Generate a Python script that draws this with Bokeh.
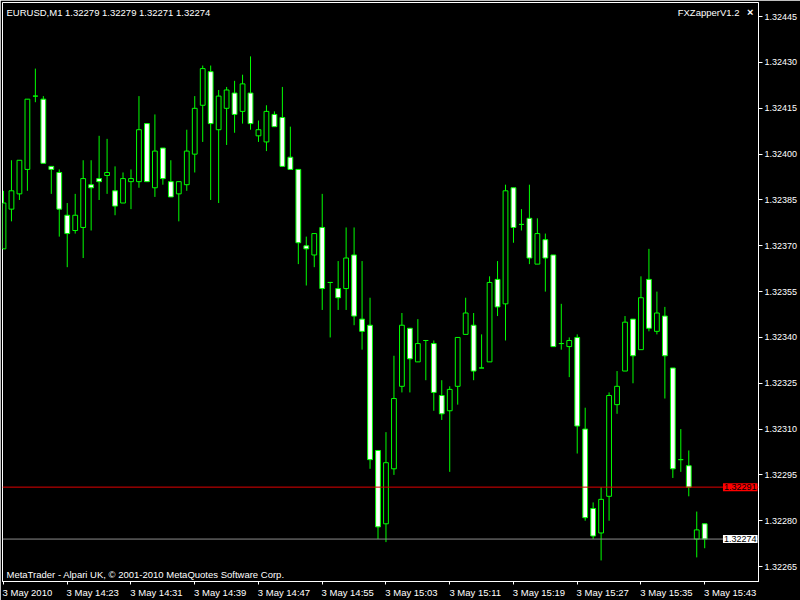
from bokeh.plotting import figure
from bokeh.models import (ColumnDataSource, FixedTicker, Label, Span, Range1d,
                          PrintfTickFormatter)
from bokeh.embed import file_html
from bokeh.resources import INLINE

# EURUSD M1, 3 May 2010, 14:15 .. 15:43 (one bar per minute)
bar_open = [1.32369, 1.32382, 1.32387, 1.32395, 1.32419, 1.32418, 1.32396, 1.32394, 1.32380, 1.32375,
            1.32376, 1.32390, 1.32392, 1.32393, 1.32388, 1.32384, 1.32391, 1.32391, 1.32410, 1.32389,
            1.32402, 1.32391, 1.32387, 1.32390, 1.32400, 1.32416, 1.32427, 1.32408, 1.32415, 1.32420,
            1.32414, 1.32420, 1.32406, 1.32404, 1.32413, 1.32412, 1.32399, 1.32395, 1.32370, 1.32367,
            1.32376, 1.32358, 1.32356, 1.32356, 1.32367, 1.32346, 1.32344, 1.32303, 1.32279, 1.32297,
            1.32324, 1.32343, 1.32332, 1.32339, 1.32338, 1.32321, 1.32316, 1.32324, 1.32341, 1.32344,
            1.32330, 1.32332, 1.32359, 1.32351, 1.32389, 1.32377, 1.32379, 1.32364, 1.32372, 1.32367,
            1.32338, 1.32337, 1.32340, 1.32310, 1.32284, 1.32276, 1.32288, 1.32318, 1.32329, 1.32346,
            1.32336, 1.32359, 1.32342, 1.32347, 1.32330, 1.32300, 1.32298, 1.32274, 1.32279]
bar_high = [1.32388, 1.32398, 1.32398, 1.32418, 1.32428, 1.32419, 1.32396, 1.32395, 1.32384, 1.32387,
            1.32398, 1.32398, 1.32406, 1.32405, 1.32396, 1.32394, 1.32395, 1.32419, 1.32410, 1.32413,
            1.32402, 1.32398, 1.32391, 1.32408, 1.32419, 1.32429, 1.32429, 1.32421, 1.32422, 1.32424,
            1.32426, 1.32432, 1.32411, 1.32416, 1.32414, 1.32422, 1.32409, 1.32395, 1.32373, 1.32374,
            1.32387, 1.32358, 1.32365, 1.32376, 1.32376, 1.32365, 1.32353, 1.32303, 1.32309, 1.32334,
            1.32348, 1.32343, 1.32346, 1.32339, 1.32339, 1.32326, 1.32324, 1.32340, 1.32353, 1.32348,
            1.32341, 1.32360, 1.32365, 1.32390, 1.32389, 1.32382, 1.32390, 1.32379, 1.32374, 1.32367,
            1.32351, 1.32340, 1.32341, 1.32317, 1.32286, 1.32291, 1.32322, 1.32329, 1.32347, 1.32346,
            1.32360, 1.32369, 1.32355, 1.32350, 1.32330, 1.32310, 1.32303, 1.32283, 1.32279]
bar_low = [1.32369, 1.32378, 1.32385, 1.32388, 1.32417, 1.32397, 1.32387, 1.32373, 1.32363, 1.32374,
           1.32366, 1.32375, 1.32385, 1.32387, 1.32380, 1.32384, 1.32382, 1.32389, 1.32391, 1.32386,
           1.32390, 1.32386, 1.32378, 1.32388, 1.32394, 1.32404, 1.32385, 1.32384, 1.32403, 1.32407,
           1.32410, 1.32408, 1.32404, 1.32401, 1.32409, 1.32396, 1.32395, 1.32364, 1.32357, 1.32363,
           1.32349, 1.32340, 1.32349, 1.32349, 1.32344, 1.32336, 1.32297, 1.32274, 1.32273, 1.32295,
           1.32322, 1.32322, 1.32332, 1.32326, 1.32316, 1.32313, 1.32296, 1.32318, 1.32341, 1.32326,
           1.32330, 1.32332, 1.32347, 1.32339, 1.32371, 1.32375, 1.32364, 1.32364, 1.32355, 1.32337,
           1.32336, 1.32327, 1.32302, 1.32280, 1.32274, 1.32267, 1.32280, 1.32315, 1.32329, 1.32325,
           1.32336, 1.32342, 1.32341, 1.32320, 1.32294, 1.32296, 1.32288, 1.32268, 1.32271]
bar_close = [1.32384, 1.32388, 1.32398, 1.32418, 1.32419, 1.32397, 1.32395, 1.32382, 1.32374, 1.32380,
             1.32392, 1.32389, 1.32391, 1.32394, 1.32383, 1.32392, 1.32392, 1.32408, 1.32391, 1.32401,
             1.32392, 1.32386, 1.32391, 1.32401, 1.32415, 1.32428, 1.32410, 1.32419, 1.32421, 1.32413,
             1.32423, 1.32410, 1.32408, 1.32414, 1.32409, 1.32396, 1.32395, 1.32371, 1.32369, 1.32374,
             1.32356, 1.32358, 1.32353, 1.32366, 1.32347, 1.32342, 1.32300, 1.32278, 1.32299, 1.32320,
             1.32344, 1.32333, 1.32338, 1.32339, 1.32322, 1.32315, 1.32323, 1.32340, 1.32348, 1.32329,
             1.32330, 1.32358, 1.32350, 1.32388, 1.32376, 1.32377, 1.32366, 1.32374, 1.32366, 1.32337,
             1.32338, 1.32339, 1.32311, 1.32281, 1.32275, 1.32287, 1.32321, 1.32324, 1.32345, 1.32334,
             1.32353, 1.32343, 1.32348, 1.32334, 1.32297, 1.32300, 1.32291, 1.32277, 1.32274]

time_tick_bars = [0, 8, 16, 24, 32, 40, 48, 56, 64, 72, 80, 88]
time_tick_labels = ["3 May 2010", "3 May 14:23", "3 May 14:31", "3 May 14:39", "3 May 14:47",
                    "3 May 14:55", "3 May 15:03", "3 May 15:11", "3 May 15:19", "3 May 15:27",
                    "3 May 15:35", "3 May 15:43"]
price_ticks = [1.32265, 1.32280, 1.32295, 1.32310, 1.32325, 1.32340, 1.32355, 1.32370,
               1.32385, 1.32400, 1.32415, 1.32430, 1.32445]
level_line = 1.32291
bid_price = 1.32274
header_text = "EURUSD,M1  1.32279 1.32279 1.32271 1.32274"
footer_text = "MetaTrader - Alpari UK, \u00a9 2001-2010 MetaQuotes Software Corp."
indicator_text = "FXZapperV1.2"

FONT = "Liberation Sans"
FS = "9.5px"
AXFS = "9px"
GREEN = "#00ff00"

n = len(bar_open)
idx = list(range(n))
top = [max(o, c) for o, c in zip(bar_open, bar_close)]
bot = [min(o, c) for o, c in zip(bar_open, bar_close)]
fill = ["black" if c > o else "white" for o, c in zip(bar_open, bar_close)]
src = ColumnDataSource(dict(x=idx, high=bar_high, low=bar_low, top=top, bottom=bot, fill=fill))

x0, x1 = -0.125, 94.75
y0, y1 = 1.3226011, 1.3244964

p = figure(width=800, height=600, output_backend="svg", toolbar_location=None,
           x_range=Range1d(x0, x1), y_range=Range1d(y0, y1),
           y_axis_location="right",
           background_fill_color="black", border_fill_color="black",
           min_border_left=2, min_border_top=2, min_border_right=0, min_border_bottom=0)
p.outline_line_color = "white"
p.outline_line_width = 1
p.grid.visible = False

# horizontal lines
p.add_layout(Span(location=level_line, dimension="width", line_color="#e00000", line_width=1))
p.add_layout(Span(location=bid_price, dimension="width", line_color="#8c8c8c", line_width=1))

p.segment(x0="x", y0="low", x1="x", y1="high", source=src, line_color=GREEN, line_width=1)
p.vbar(x="x", top="top", bottom="bottom", width=0.6, source=src,
       fill_color="fill", line_color=GREEN, line_width=1)

# right price axis
ya = p.yaxis[0]
ya.ticker = FixedTicker(ticks=price_ticks)
ya.formatter = PrintfTickFormatter(format="%.5f")
ya.axis_line_color = "white"
ya.major_tick_line_color = "white"
ya.major_tick_out = 4
ya.major_tick_in = 0
ya.minor_tick_line_color = None
ya.major_label_text_color = "white"
ya.major_label_text_font = FONT
ya.major_label_text_font_size = AXFS
ya.major_label_standoff = 2

# bottom time axis: tick marks (minor) at the bars, labels (major, no mark) starting at each tick
label_pos = [b + (3.0 if i == 0 else 3.2) for i, b in enumerate(time_tick_bars)]
xa = p.xaxis[0]
xa.ticker = FixedTicker(ticks=label_pos, minor_ticks=time_tick_bars)
xa.major_label_overrides = {pos: t for pos, t in zip(label_pos, time_tick_labels)}
xa.axis_line_color = "white"
xa.major_tick_line_color = None
xa.major_tick_out = 3
xa.major_tick_in = 0
xa.minor_tick_line_color = "white"
xa.minor_tick_out = 3
xa.minor_tick_in = 0
xa.major_label_standoff = 2
xa.major_label_text_color = "white"
xa.major_label_text_font = FONT
xa.major_label_text_font_size = FS

# price boxes (kept at the right edge of the chart area)
p.add_layout(Label(x=x1, y=level_line, x_offset=-1, text=f"{level_line:.5f}",
                   text_align="right", text_baseline="middle", text_color="black",
                   text_font=FONT, text_font_size=AXFS, background_fill_color="#ff0000",
                   padding=1))
p.add_layout(Label(x=x1, y=bid_price, x_offset=-1, text=f"{bid_price:.5f}",
                   text_align="right", text_baseline="middle", text_color="black",
                   text_font=FONT, text_font_size=AXFS, background_fill_color="white",
                   padding=1))

# texts inside the chart
p.add_layout(Label(x=x0, y=y1, x_offset=4, y_offset=-4, text=header_text,
                   text_align="left", text_baseline="top", text_color="white",
                   text_font=FONT, text_font_size=FS))
p.add_layout(Label(x=x0, y=y0, x_offset=4, y_offset=2, text=footer_text,
                   text_align="left", text_baseline="bottom", text_color="white",
                   text_font=FONT, text_font_size=FS))
p.add_layout(Label(x=x1, y=y1, x_offset=-19, y_offset=-4, text=indicator_text,
                   text_align="right", text_baseline="top", text_color="white",
                   text_font=FONT, text_font_size=FS))
p.add_layout(Label(x=x1, y=y1, x_offset=-5, y_offset=-3, text="\u00d7",
                   text_align="right", text_baseline="top", text_color="white",
                   text_font=FONT, text_font_size="11px", text_font_style="bold"))

open("out.html", "w").write(file_html(p, INLINE))
